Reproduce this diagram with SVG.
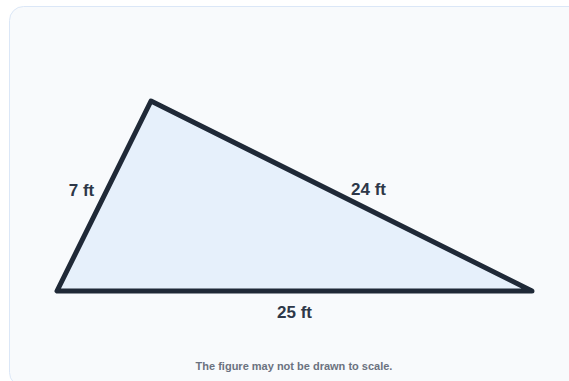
<svg xmlns="http://www.w3.org/2000/svg" width="569" height="381" viewBox="0 0 569 381">
<style>
.lbl{font-family:"Liberation Sans",Arial,sans-serif;font-weight:bold;font-size:17px;fill:#2d3748}
.note{font-family:"Liberation Sans",Arial,sans-serif;font-weight:bold;font-size:11px;fill:#6b7280}
</style>
<rect x="9.5" y="6.5" width="575" height="380" rx="14" fill="#f8fafc" stroke="#dbe7f7" stroke-width="1"/>
<g id="triangle">
<polygon points="151,101 57,291 532,291" fill="#e6f0fb" stroke="#1f2937" stroke-width="5" stroke-linejoin="round"/>
</g>
<g id="labels">
<text class="lbl" x="81.5" y="196" text-anchor="middle">7 ft</text>
<text class="lbl" x="368.5" y="195" text-anchor="middle">24 ft</text>
<text class="lbl" x="294.5" y="318" text-anchor="middle">25 ft</text>
<text class="note" x="294" y="370" text-anchor="middle">The figure may not be drawn to scale.</text>
</g>
</svg>
